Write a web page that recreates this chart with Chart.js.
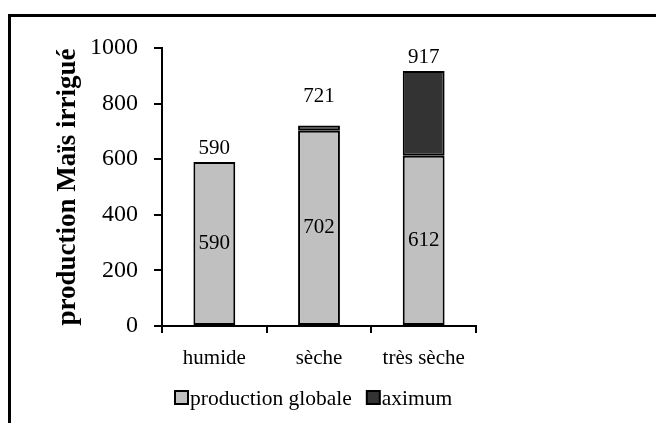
<!DOCTYPE html>
<html>
<head>
<meta charset="utf-8">
<script src="https://cdn.jsdelivr.net/npm/chart.js@4/dist/chart.umd.min.js"></script>
<style>
  html, body { margin: 0; padding: 0; background: #fff; }
</style>
</head>
<body>
<canvas id="myChart" width="656" height="423"></canvas>
<script>
var categories = ["humide", "sèche", "très sèche"];
var productionGlobale = [590, 702, 612];
var aximum = [0, 19, 305];
var seriesNames = ["production globale", "aximum"];
var yTitle = "production Maïs irrigué";

var serif = "'Liberation Serif', 'Times New Roman', serif";
var greyFill = "#c0c0c0";
var darkFill = "#333333";

// how far above the stack top each total label sits
var totalLift = [13, 29, 14];

var framePlugin = {
    id: "frame",
    beforeDraw: function(chart) {
        var c = chart.ctx;
        c.save();
        c.fillStyle = "#fff";
        c.fillRect(0, 0, chart.width, chart.height);
        c.fillStyle = "#000";
        c.fillRect(8, 14, 3, chart.height);
        c.fillRect(8, 14, chart.width, 3);
        c.restore();
    }
};

var labelsPlugin = {
    id: "valueLabels",
    afterDatasetsDraw: function(chart) {
        var c = chart.ctx;
        var y = chart.scales.y;
        var meta = chart.getDatasetMeta(0);
        c.save();
        c.fillStyle = "#000";
        c.font = "21px " + serif;
        c.textAlign = "center";
        c.textBaseline = "middle";
        meta.data.forEach(function(bar, i) {
            c.fillText(String(productionGlobale[i]), bar.x, (bar.y + bar.base) / 2);
            var total = productionGlobale[i] + aximum[i];
            c.fillText(String(total), bar.x, y.getPixelForValue(total) - totalLift[i]);
        });
        c.restore();
    },
    afterDraw: function(chart) {
        // legend drawn by hand: Excel style with the text right against the box
        var c = chart.ctx;
        var area = chart.chartArea;
        var fills = [greyFill, darkFill];
        var x = area.left + 12;
        var yc = 398;
        c.save();
        c.font = "21.5px " + serif;
        c.textBaseline = "middle";
        c.textAlign = "left";
        seriesNames.forEach(function(name, i) {
            c.fillStyle = fills[i];
            c.fillRect(x + 1, yc - 7, 13, 13);
            c.strokeStyle = "#000";
            c.lineWidth = 2;
            c.strokeRect(x + 1, yc - 7, 13, 13);
            c.fillStyle = "#000";
            c.fillText(name, x + 16, yc + 1);
            x += 16 + c.measureText(name).width + 14;
        });
        c.restore();
    }
};

var ctx = document.getElementById("myChart").getContext("2d");
var myChart = new Chart(ctx, {
    type: "bar",
    data: {
        labels: categories,
        datasets: [
            {
                label: seriesNames[0],
                data: productionGlobale,
                backgroundColor: greyFill,
                borderColor: "#000",
                borderWidth: 2,
                borderSkipped: false
            },
            {
                label: seriesNames[1],
                data: aximum,
                backgroundColor: darkFill,
                borderColor: "#000",
                borderWidth: 2,
                borderSkipped: false
            }
        ]
    },
    options: {
        responsive: false,
        animation: false,
        layout: { padding: { top: 48, right: 180, bottom: 47, left: 0 } },
        datasets: { bar: { categoryPercentage: 1, barPercentage: 0.4 } },
        plugins: {
            legend: { display: false },
            tooltip: { enabled: false }
        },
        scales: {
            x: {
                stacked: true,
                afterFit: function(s) { s.height = 50; },
                grid: { drawOnChartArea: false, drawTicks: true, tickLength: 7, color: "#000", lineWidth: 2 },
                border: { display: true, color: "#000", width: 2 },
                ticks: { color: "#000", font: { family: serif, size: 21 }, padding: 13, maxRotation: 0 }
            },
            y: {
                stacked: true,
                min: 0,
                max: 1000,
                afterFit: function(s) { s.width = 162; },
                grid: { drawOnChartArea: false, drawTicks: true, tickLength: 8, color: "#000", lineWidth: 2 },
                border: { display: true, color: "#000", width: 2 },
                ticks: {
                    stepSize: 200,
                    color: "#000",
                    font: { family: serif, size: 24 },
                    padding: 16,
                    callback: function(v) { return String(v); }
                },
                title: {
                    display: true,
                    text: yTitle,
                    color: "#000",
                    font: { family: serif, size: 27, weight: "bold" },
                    padding: { top: 52, bottom: 0 }
                }
            }
        }
    },
    plugins: [framePlugin, labelsPlugin]
});
</script>
</body>
</html>
